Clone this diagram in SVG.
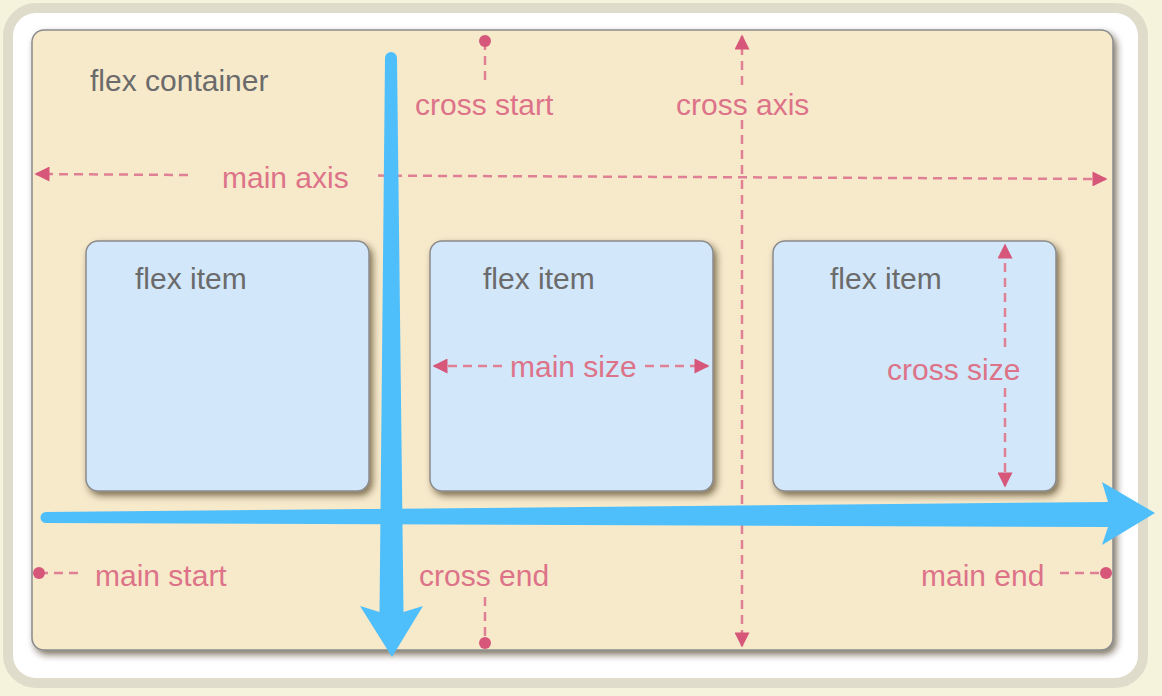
<svg xmlns="http://www.w3.org/2000/svg" width="1162" height="696" viewBox="0 0 1162 696">
<defs>
<style>
.lbl{font-family:"Liberation Sans",Arial,sans-serif;font-size:30px;fill:#dd7388}
.gray{font-family:"Liberation Sans",Arial,sans-serif;font-size:30px;fill:#6b6b6b}
.dash{fill:none;stroke:#e08095;stroke-width:2.5;stroke-dasharray:9 6}
.dot{fill:#d6577a}
.item{fill:#d2e7fa;stroke:#8a8a8a;stroke-width:1.5}
.blue{fill:#4fbffb}
</style>
<filter id="sh" x="-10%" y="-10%" width="120%" height="125%">
<feDropShadow dx="3" dy="4" stdDeviation="3.5" flood-color="#2a1a00" flood-opacity="0.6"/>
</filter>
<marker id="ah" viewBox="0 0 10 10" refX="9" refY="5" markerWidth="6.4" markerHeight="6" markerUnits="strokeWidth" orient="auto-start-reverse">
<path d="M0,0 L10,5 L0,10 Z" fill="#d6577a"/>
</marker>
</defs>
<rect width="1162" height="696" fill="#f5f3dc"/>
<rect x="8" y="8" width="1135" height="675" rx="28" fill="#ffffff" stroke="#dfdccb" stroke-width="10"/>
<g id="container">
<rect x="32" y="30" width="1081" height="620" rx="12" fill="#f7eacb" stroke="#8a8a8a" stroke-width="1.5" filter="url(#sh)"/>
<text class="gray" x="90" y="91">flex container</text>
</g>
<g id="item1">
<rect class="item" x="86" y="241" width="283" height="250" rx="12" filter="url(#sh)"/>
<text class="gray" x="135" y="289">flex item</text>
</g>
<g id="item2">
<rect class="item" x="430" y="241" width="283" height="250" rx="12" filter="url(#sh)"/>
<text class="gray" x="483" y="289">flex item</text>
</g>
<g id="item3">
<rect class="item" x="773" y="241" width="283" height="250" rx="12" filter="url(#sh)"/>
<text class="gray" x="830" y="289">flex item</text>
</g>
<g id="connectors">
<path class="dash" d="M188,175 L36,174" marker-end="url(#ah)"/>
<path class="dash" d="M378,175.6 L1106,179" stroke-dasharray="1 21 9 6" marker-end="url(#ah)"/>
<path class="dash" d="M742,85 L742,36" marker-end="url(#ah)"/>
<path class="dash" d="M742,120 L742,646" marker-end="url(#ah)"/>
<path class="dash" d="M485,41 L485,86"/>
<circle class="dot" cx="485" cy="41" r="6"/>
<path class="dash" d="M485,597 L485,643"/>
<circle class="dot" cx="485" cy="643" r="6"/>
<path class="dash" d="M39,573 L83,573"/>
<circle class="dot" cx="39" cy="573" r="6"/>
<path class="dash" d="M1060,573 L1106,573"/>
<circle class="dot" cx="1106" cy="573" r="6"/>
<path class="dash" d="M502,366 L434,366" marker-end="url(#ah)"/>
<path class="dash" d="M645,366 L708,366" marker-end="url(#ah)"/>
<path class="dash" d="M1005,347 L1005,245" marker-end="url(#ah)"/>
<path class="dash" d="M1005,388 L1005,486" marker-end="url(#ah)"/>
<path class="blue" d="M46,512 L1108,502 L1102,482 L1155,513 L1102,545 L1108,527 L46,523 A5.5,5.5 0 0 1 46,512 Z"/>
<path class="blue" d="M385,58 A6,6 0 0 1 397,58 L403.5,612 L423,606 L392,657 L360,606 L379.5,612 Z"/>
</g>
<g id="labels">
<text class="lbl" x="415" y="115">cross start</text>
<text class="lbl" x="676" y="115">cross axis</text>
<text class="lbl" x="222" y="188">main axis</text>
<text class="lbl" x="510" y="377">main size</text>
<text class="lbl" x="887" y="380">cross size</text>
<text class="lbl" x="95" y="586">main start</text>
<text class="lbl" x="419" y="586">cross end</text>
<text class="lbl" x="921" y="586">main end</text>
</g>
</svg>
